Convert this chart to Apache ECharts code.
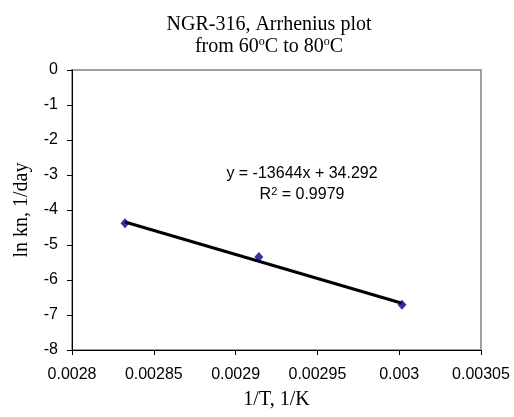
<!DOCTYPE html>
<html><head><meta charset="utf-8">
<script src="https://cdn.jsdelivr.net/npm/echarts@6/dist/echarts.min.js"></script>
<style>html,body{margin:0;padding:0;background:#fff}#c{width:514px;height:417px}</style>
</head><body><div id="c"></div>
<script>
var invT = [0.0028324, 0.0029142, 0.0030017];
var lnKn = [-4.38, -5.34, -6.71];
var trendX = [0.0028324, 0.0030017];
var trendY = [-4.344, -6.663];
var xTicks = {min: 0.0028, max: 0.00305, step: 0.00005};
var yTicks = {min: -8, max: 0, step: 1};
var eqText = 'y = -13644x + 34.292';
var r2Value = '0.9979';

var chart = echarts.init(document.getElementById('c'), null, {renderer: 'canvas'});
var serif = '"Liberation Serif", "Times New Roman", serif';
var sans = '"Liberation Sans", Arial, sans-serif';
chart.setOption({
  animation: false,
  backgroundColor: '#fff',
  title: {
    text: 'NGR-316, Arrhenius plot\n{n|from 60}{s|o}{n|C to 80}{s|o}{n|C}',
    left: 264, top: 9, textAlign: 'center',
    textStyle: {
      fontFamily: serif, fontSize: 20, fontWeight: 'normal', color: '#000', lineHeight: 22,
      rich: {
        n: {fontFamily: serif, fontSize: 20, color: '#000', lineHeight: 22, verticalAlign: 'middle'},
        s: {fontFamily: serif, fontSize: 12, color: '#000', verticalAlign: 'top', lineHeight: 12}
      }
    }
  },
  grid: {left: 72, right: 33, top: 70, bottom: 67, show: true, borderColor: '#a0a0a0', borderWidth: 2, backgroundColor: '#fff'},
  xAxis: {
    type: 'value', min: xTicks.min, max: xTicks.max, interval: xTicks.step,
    name: '1/T, 1/K', nameLocation: 'middle', nameGap: 40,
    nameTextStyle: {fontFamily: serif, fontSize: 20, color: '#000'},
    axisLine: {show: true, onZero: false, lineStyle: {color: '#000', width: 1}},
    axisTick: {show: true, inside: false, length: 5, lineStyle: {color: '#000'}},
    axisLabel: {fontFamily: sans, fontSize: 16, color: '#000', margin: 17,
      formatter: function (v) { return String(Number(v.toFixed(6))); }},
    splitLine: {show: false}
  },
  yAxis: {
    type: 'value', min: yTicks.min, max: yTicks.max, interval: yTicks.step,
    name: 'ln kn, 1/day', nameLocation: 'middle', nameGap: 40, nameRotate: 90,
    nameTextStyle: {fontFamily: serif, fontSize: 20, color: '#000'},
    axisLine: {show: true, onZero: false, lineStyle: {color: '#000', width: 1}},
    axisTick: {show: true, inside: false, length: 5, lineStyle: {color: '#000'}},
    axisLabel: {fontFamily: sans, fontSize: 16, color: '#000', margin: 14},
    splitLine: {show: false}
  },
  series: [
    {
      type: 'line', data: trendX.map(function (x, i) { return [x, trendY[i]]; }),
      showSymbol: false, symbol: 'none', lineStyle: {color: '#000', width: 3}, z: 2
    },
    {
      type: 'scatter', data: invT.map(function (x, i) { return [x, lnKn[i]]; }),
      symbol: 'diamond', symbolSize: [9, 10], itemStyle: {color: '#000080'}, z: 3
    }
  ],
  graphic: [
    {type: 'text', style: {text: eqText, x: 302, y: 174, textAlign: 'center', textVerticalAlign: 'middle', font: '16px ' + sans, fill: '#000'}},
    {type: 'text', style: {text: '{n|R}{s|2}{n| = ' + r2Value + '}', x: 302, y: 195, textAlign: 'center', textVerticalAlign: 'middle', font: '16px ' + sans, fill: '#000',
      rich: {n: {fontFamily: sans, fontSize: 16, fill: '#000'}, s: {fontFamily: sans, fontSize: 11, fill: '#000', verticalAlign: 'top', padding: [0,0,6,0]}}}}
  ]
});
</script>
</body></html>
